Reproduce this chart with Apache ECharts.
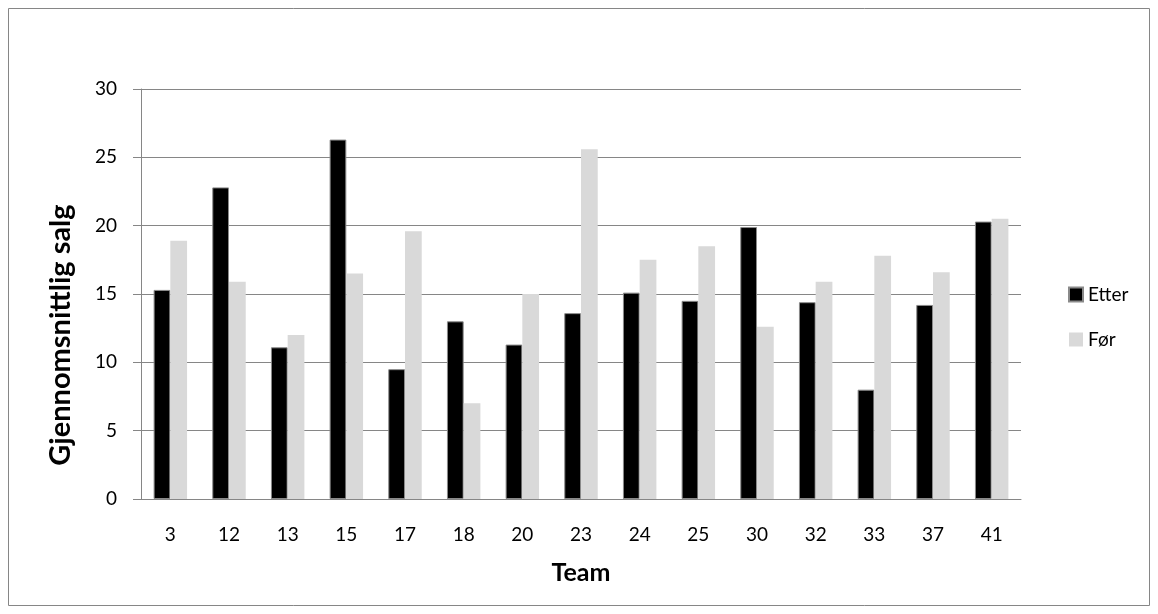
<!DOCTYPE html>
<html>
<head>
<meta charset="utf-8">
<script src="https://cdn.jsdelivr.net/npm/echarts@6/dist/echarts.min.js"></script>
<style>
  html, body { margin: 0; padding: 0; background: #fff; }
  #chart { width: 1158px; height: 614px; }
</style>
</head>
<body>
<div id="chart"></div>
<script>
// Average sales per team, after vs. before
const teams = ['3', '12', '13', '15', '17', '18', '20', '23', '24', '25', '30', '32', '33', '37', '41'];
const etter = [15.3, 22.8, 11.1, 26.3, 9.5, 13.0, 11.3, 13.6, 15.1, 14.5, 19.9, 14.4, 8.0, 14.2, 20.3];
const foer  = [18.9, 15.9, 12.0, 16.5, 19.6, 7.0, 15.0, 25.6, 17.5, 18.5, 12.6, 15.9, 17.8, 16.6, 20.5];
const yTicks = { min: 0, max: 30, interval: 5 };

const FONT = 'Lato, "Open Sans", sans-serif';
const GREY = '#868686';

const chart = echarts.init(document.getElementById('chart'), null, { renderer: 'canvas' });

chart.setOption({
  animation: false,
  backgroundColor: '#ffffff',
  textStyle: { fontFamily: FONT, color: '#000' },
  graphic: [{
    type: 'rect',
    shape: { x: 8.5, y: 8.5, width: 1141, height: 597 },
    style: { fill: 'none', stroke: GREY, lineWidth: 1 },
    silent: true
  }],
  grid: { left: 141, right: 137, top: 89, bottom: 115, containLabel: false },
  legend: {
    orient: 'vertical',
    left: 1063,
    top: 280,
    itemWidth: 14,
    itemHeight: 14,
    itemGap: 26,
    icon: 'rect',
    textStyle: { fontFamily: FONT, fontSize: 19, color: '#000', padding: [0, 0, 0, 0] },
    data: ['Etter', 'Før']
  },
  xAxis: {
    type: 'category',
    data: teams,
    name: 'Team',
    nameLocation: 'middle',
    nameGap: 61,
    nameTextStyle: { fontFamily: FONT, fontSize: 25, fontWeight: 'bold', color: '#000' },
    axisLine: { lineStyle: { color: GREY, width: 1 } },
    axisTick: { show: false },
    axisLabel: { fontFamily: FONT, fontSize: 19, color: '#000', margin: 26 }
  },
  yAxis: {
    type: 'value',
    min: yTicks.min,
    max: yTicks.max,
    interval: yTicks.interval,
    name: 'Gjennomsnittlig salg',
    nameLocation: 'middle',
    nameGap: 66,
    // title sits a little below the vertical middle of the plot
    nameTextStyle: { fontFamily: FONT, fontSize: 29, fontWeight: 'bold', color: '#000', padding: [0, 82, 0, 0] },
    axisLine: { show: true, lineStyle: { color: GREY, width: 1 } },
    axisTick: { show: true, length: 8, lineStyle: { color: GREY, width: 1 } },
    axisLabel: { fontFamily: FONT, fontSize: 19, color: '#000', margin: 24 },
    splitLine: { show: true, lineStyle: { color: GREY, width: 1 } }
  },
  series: [
    {
      name: 'Etter',
      type: 'bar',
      data: etter,
      barGap: '0%',
      barCategoryGap: '43%',
      itemStyle: { color: '#000000', borderColor: '#8a8a8a', borderWidth: 1 }
    },
    {
      name: 'Før',
      type: 'bar',
      data: foer,
      itemStyle: { color: '#d9d9d9' }
    }
  ]
});
</script>
</body>
</html>
